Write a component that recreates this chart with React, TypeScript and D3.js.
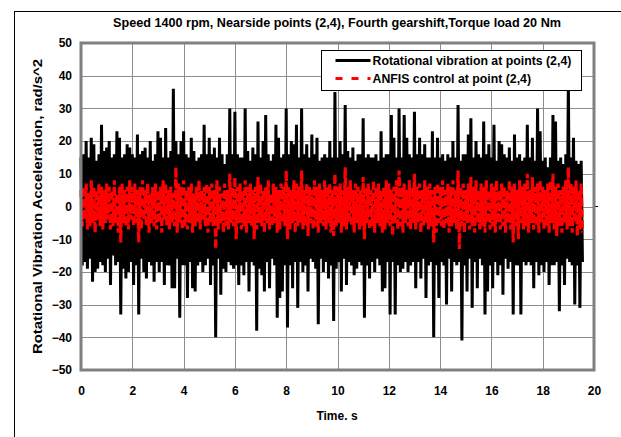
import { useEffect, useRef } from 'react';
import * as d3 from 'd3';

const chartTitle = 'Speed 1400 rpm, Nearside points (2,4), Fourth gearshift,Torque load 20 Nm';
const yTitle = 'Rotational Vibration  Acceleration, rad/s^2';
const xTitle = 'Time. s';
const seriesNames = ['Rotational vibration at points (2,4)', 'ANFIS control at point (2,4)'];
const xTicks = [0, 2, 4, 6, 8, 10, 12, 14, 16, 18, 20];
const yTicks = [-50, -40, -30, -20, -10, 0, 10, 20, 30, 40, 50];
const sampleStep = 0.05; // seconds between samples

// measured vibration, rad/s^2 (20 samples per second)
const vibration = [
  15, -18, 16, -17, 20, -19, 15, -16, 21, -23, 19, -20, 14, -19, 16, -17, 25, -18, 17, -20,
  18, -16, 20, -24, 15, -15, 16, -18, 23, -17, 21, -33, 15, -19, 16, -22, 19, -20, 18, -17,
  16, -24, 15, -18, 22, -33, 16, -16, 17, -20, 18, -22, 15, -17, 20, -18, 14, -23, 16, -17,
  23, -20, 21, -17, 15, -24, 24, -18, 15, -18, 17, -25, 36, -25, 20, -16, 16, -34, 20, -18,
  23, -18, 16, -28, 15, -17, 21, -25, 17, -26, 14, -18, 15, -17, 16, -20, 25, -18, 16, -16,
  21, -24, 16, -18, 18, -40, 15, -16, 21, -27, 16, -19, 13, -20, 16, -17, 30, -18, 16, -19,
  29, -18, 16, -24, 15, -18, 15, -21, 30, -17, 17, -26, 14, -17, 18, -18, 16, -38, 26, -19,
  15, -21, 20, -26, 28, -17, 16, -25, 14, -16, 16, -18, 25, -34, 21, -28, 15, -26, 16, -18,
  30, -37, 16, -18, 20, -25, 19, -17, 25, -31, 15, -17, 30, -20, 16, -18, 19, -26, 15, -16,
  22, -17, 16, -19, 21, -36, 14, -16, 15, -20, 16, -17, 15, -22, 20, -18, 15, -35, 35, -19,
  15, -17, 20, -26, 16, -16, 31, -24, 17, -17, 15, -18, 18, -21, 14, -19, 16, -17, 16, -18,
  27, -34, 15, -18, 16, -22, 15, -17, 15, -20, 16, -16, 14, -18, 23, -26, 15, -25, 16, -17,
  16, -33, 28, -17, 21, -33, 15, -18, 30, -20, 15, -19, 28, -17, 21, -20, 16, -18, 15, -17,
  29, -25, 16, -17, 21, -22, 16, -16, 19, -28, 15, -18, 15, -17, 23, -40, 15, -18, 21, -28,
  15, -17, 16, -18, 14, -30, 16, -16, 15, -26, 20, -17, 15, -18, 31, -17, 14, -41, 16, -18,
  16, -26, 22, -16, 27, -31, 15, -17, 20, -25, 16, -16, 15, -18, 26, -33, 16, -26, 19, -18,
  15, -25, 25, -17, 14, -21, 20, -18, 19, -27, 16, -16, 15, -19, 18, -17, 14, -33, 22, -18,
  15, -18, 16, -33, 14, -17, 15, -18, 25, -17, 15, -18, 21, -25, 14, -17, 30, -21, 23, -18,
  14, -20, 15, -17, 12, -24, 15, -18, 28, -18, 26, -17, 14, -32, 15, -18, 13, -24, 16, -16,
  38, -17, 15, -18, 21, -30, 14, -18, 13, -31, 14, -17,
];

// ANFIS controlled response, rad/s^2 (20 samples per second)
const anfis = [
  5, -6, 6, -4, 7, -7, 4, -6, 8, -5, 6, -8, 5, -4, 7, -6, 6, -7, 5, -5,
  7, -4, 6, -7, 5, -6, 8, -5, 4, -8, 6, -11, 7, -5, 5, -6, 6, -7, 8, -4,
  6, -6, 7, -5, 5, -11, 6, -7, 8, -4, 5, -6, 7, -8, 4, -5, 6, -6, 7, -7,
  5, -5, 6, -8, 8, -4, 7, -6, 5, -7, 6, -5, 4, -6, 12, -8, 7, -5, 6, -7,
  8, -6, 5, -7, 6, -5, 7, -8, 4, -6, 6, -5, 8, -7, 5, -4, 6, -6, 7, -8,
  6, -5, 7, -6, 5, -13, 8, -7, 6, -5, 4, -8, 7, -6, 5, -7, 10, -5, 6, -6,
  9, -10, 6, -5, 7, -7, 5, -6, 8, -8, 6, -5, 7, -6, 5, -10, 6, -7, 9, -5,
  7, -6, 5, -8, 6, -5, 8, -7, 4, -6, 7, -5, 6, -8, 5, -7, 7, -5, 6, -6,
  11, -10, 6, -7, 5, -5, 8, -8, 7, -6, 6, -5, 11, -7, 5, -6, 7, -9, 6, -5,
  5, -7, 8, -6, 6, -8, 7, -5, 5, -6, 8, -7, 6, -5, 7, -8, 5, -9, 10, -6,
  6, -5, 7, -8, 5, -6, 12, -7, 6, -5, 8, -6, 5, -8, 7, -5, 6, -7, 5, -6,
  9, -10, 6, -5, 7, -7, 5, -6, 8, -8, 6, -5, 7, -6, 5, -8, 6, -7, 8, -5,
  7, -6, 5, -9, 6, -5, 8, -7, 11, -6, 6, -8, 7, -5, 5, -6, 8, -7, 6, -5,
  10, -7, 6, -5, 7, -8, 5, -6, 8, -5, 6, -7, 7, -6, 5, -11, 6, -8, 7, -5,
  6, -6, 8, -7, 5, -5, 7, -8, 6, -6, 8, -5, 5, -7, 11, -13, 6, -6, 7, -8,
  5, -5, 7, -7, 9, -6, 6, -8, 8, -5, 5, -7, 7, -6, 6, -8, 8, -5, 5, -7,
  7, -6, 6, -8, 8, -5, 5, -7, 7, -6, 6, -8, 5, -5, 8, -7, 6, -11, 7, -6,
  5, -10, 8, -5, 6, -7, 7, -6, 10, -8, 5, -5, 9, -7, 6, -6, 7, -8, 8, -5,
  6, -7, 5, -6, 7, -8, 8, -5, 10, -7, 6, -9, 7, -6, 5, -8, 6, -5, 8, -7,
  12, -6, 7, -8, 6, -5, 8, -9, 5, -7, 7, -8,
];

const FONT = 'Liberation Sans, Arial, sans-serif';

export default function App() {
  const svgRef = useRef<SVGSVGElement | null>(null);

  useEffect(() => {
    if (!svgRef.current) return;
    const svg = d3.select(svgRef.current);
    svg.selectAll('*').remove();

    const W = 621;
    const H = 437;
    const margin = { top: 43, right: 27, bottom: 67, left: 81 };
    const width = W - margin.left - margin.right;
    const height = H - margin.top - margin.bottom;

    svg.append('rect').attr('width', W).attr('height', H).attr('fill', '#fff');
    svg.append('rect')
      .attr('x', 14.5).attr('y', 11.5)
      .attr('width', W).attr('height', H)
      .attr('fill', 'none').attr('stroke', '#000');

    svg.append('text')
      .attr('x', 337).attr('y', 27)
      .attr('text-anchor', 'middle')
      .attr('textLength', 448)
      .attr('lengthAdjust', 'spacingAndGlyphs')
      .style('font', `bold 12.5px ${FONT}`)
      .text(chartTitle);

    const g = svg.append('g').attr('transform', `translate(${margin.left},${margin.top})`);

    const x = d3.scaleLinear().domain([0, 20]).range([0, width]);
    const y = d3.scaleLinear().domain([-50, 50]).range([height, 0]);

    // grid
    g.append('g').selectAll('line').data(yTicks).join('line')
      .attr('x1', 0).attr('x2', width)
      .attr('y1', d => Math.round(y(d)) + 0.5).attr('y2', d => Math.round(y(d)) + 0.5)
      .attr('stroke', '#8c8c8c').attr('stroke-width', 1);
    g.append('g').selectAll('line').data(xTicks).join('line')
      .attr('x1', d => Math.round(x(d)) + 0.5).attr('x2', d => Math.round(x(d)) + 0.5)
      .attr('y1', 0).attr('y2', height)
      .attr('stroke', '#8c8c8c').attr('stroke-width', 1);

    // zero line tick past the frame
    g.append('line')
      .attr('x1', width).attr('x2', width + 4)
      .attr('y1', y(0)).attr('y2', y(0))
      .attr('stroke', '#000');

    // axes labels
    g.append('g')
      .call(d3.axisLeft(y).tickValues(yTicks).tickSize(0).tickPadding(9))
      .call(a => a.select('.domain').remove())
      .selectAll('text')
      .style('font', `bold 12px ${FONT}`).attr('fill', '#000');

    g.append('g')
      .attr('transform', `translate(0,${height})`)
      .call(d3.axisBottom(x).tickValues(xTicks).tickSize(0).tickPadding(16))
      .call(a => a.select('.domain').remove())
      .selectAll('text')
      .style('font', `bold 12px ${FONT}`).attr('fill', '#000');

    svg.append('text')
      .attr('x', 337).attr('y', 420)
      .attr('text-anchor', 'middle')
      .style('font', `bold 12px ${FONT}`)
      .text(xTitle);

    svg.append('text')
      .attr('transform', `translate(42,${margin.top + height / 2}) rotate(-90)`)
      .attr('text-anchor', 'middle')
      .attr('textLength', 295)
      .attr('lengthAdjust', 'spacingAndGlyphs')
      .style('font', `bold 12.5px ${FONT}`)
      .text(yTitle);

    // series
    const line = d3.line<number>()
      .x((_, i) => x(i * sampleStep))
      .y(d => y(d));

    g.append('path')
      .datum(vibration)
      .attr('fill', 'none')
      .attr('stroke', '#000')
      .attr('stroke-width', 3)
      .attr('d', line);

    g.append('path')
      .datum(anfis)
      .attr('fill', 'none')
      .attr('stroke', '#ff0000')
      .attr('stroke-width', 3.2)
      .attr('stroke-dasharray', '8 3')
      .attr('d', line);

    // frame
    g.append('rect')
      .attr('x', 0).attr('y', 0)
      .attr('width', width).attr('height', height)
      .attr('fill', 'none')
      .attr('stroke', '#808080').attr('stroke-width', 3);

    // legend
    const legend = svg.append('g').attr('transform', 'translate(321.5,50.5)');
    legend.append('rect')
      .attr('width', 260).attr('height', 40)
      .attr('fill', '#fff').attr('stroke', '#000');
    const items = [
      { label: seriesNames[0], color: '#000', dash: null },
      { label: seriesNames[1], color: '#ff0000', dash: '7 9' },
    ];
    items.forEach((item, i) => {
      const row = legend.append('g').attr('transform', `translate(0,${10 + i * 18})`);
      row.append('line')
        .attr('x1', 14).attr('x2', 49)
        .attr('stroke', item.color)
        .attr('stroke-width', 3)
        .attr('stroke-dasharray', item.dash);
      row.append('text')
        .attr('x', 51).attr('y', 4.5)
        .style('font', `bold 12.3px ${FONT}`)
        .text(item.label);
    });
  }, []);

  return (
    <svg
      ref={svgRef}
      width={621}
      height={437}
      style={{ position: 'absolute', left: 0, top: 0 }}
    />
  );
}
